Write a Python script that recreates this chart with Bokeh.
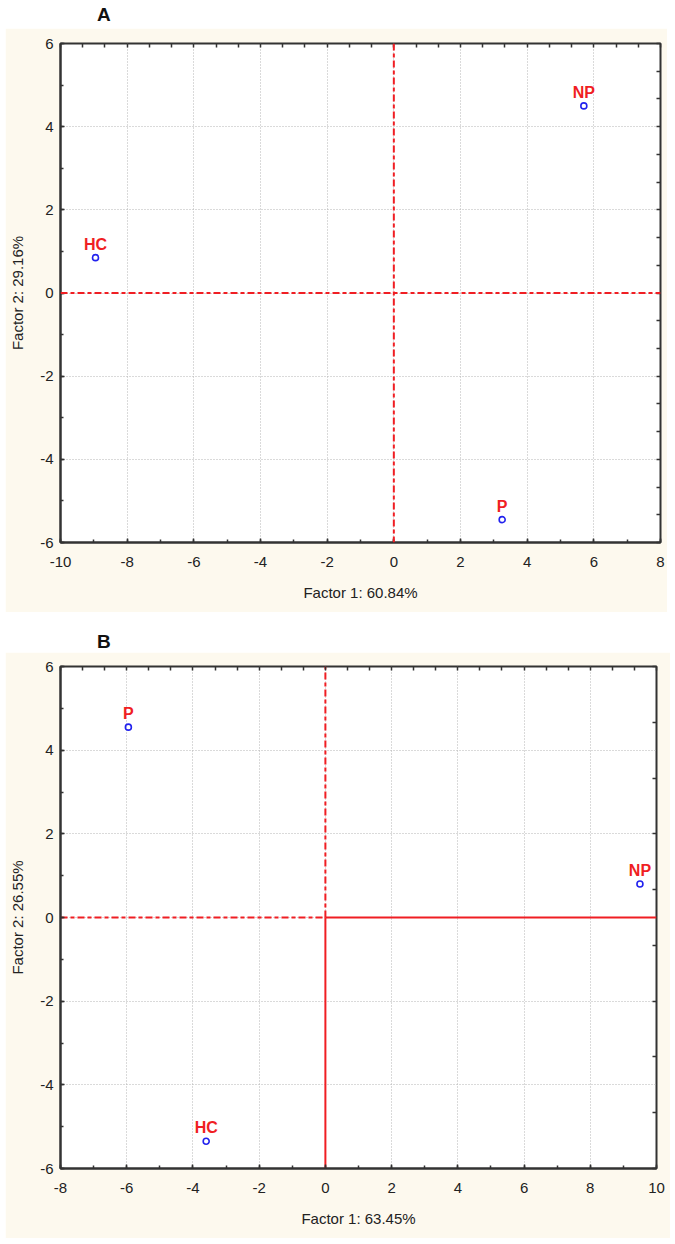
import numpy as np
from bokeh.plotting import figure
from bokeh.models import (Div, Span, LinearAxis, FixedTicker, SingleIntervalTicker, Grid,
                          ColumnDataSource, LabelSet, CustomJSTickFormatter, Range1d)
from bokeh.layouts import column
from bokeh.embed import file_html
from bokeh.resources import INLINE
from bokeh.core.properties import value

# ---------------- data ----------------
a_labels = ["NP", "HC", "P"]
a_factor1 = [5.7, -8.95, 3.25]
a_factor2 = [4.5, 0.85, -5.45]
a_xlabel = "Factor 1: 60.84%"
a_ylabel = "Factor 2: 29.16%"
a_xlim = (-10, 8)
a_ylim = (-6, 6)

b_labels = ["P", "HC", "NP"]
b_factor1 = [-5.95, -3.6, 9.5]
b_factor2 = [4.55, -5.35, 0.8]
b_xlabel = "Factor 1: 63.45%"
b_ylabel = "Factor 2: 26.55%"
b_xlim = (-8, 10)
b_ylim = (-6, 6)

CREAM = "#FDF9EE"
FRAME = "#333333"
RED = "#F01E23"
BLUE = "#2222EE"
FONT = "Liberation Sans"


def make_panel(labels, f1, f2, xlim, ylim, xlabel, ylabel, fw, fh,
               mb_left, mb_right, mb_top, mb_bottom, top_step, right_step):
    p = figure(frame_width=fw, frame_height=fh, x_range=Range1d(*xlim), y_range=Range1d(*ylim),
               output_backend="svg", toolbar_location=None, tools="",
               background_fill_color="white", border_fill_color=CREAM,
               min_border_left=mb_left, min_border_right=mb_right,
               min_border_top=mb_top, min_border_bottom=mb_bottom,
               x_axis_type=None, y_axis_type=None, margin=0)
    p.outline_line_color = FRAME
    p.outline_line_width = 2

    fmt = CustomJSTickFormatter(code="return tick.toFixed(0);")
    xt = SingleIntervalTicker(interval=2, num_minor_ticks=2)
    yt = SingleIntervalTicker(interval=2, num_minor_ticks=2)

    xa = LinearAxis(ticker=xt, formatter=fmt, axis_label=xlabel)
    ya = LinearAxis(ticker=yt, formatter=fmt, axis_label=ylabel)
    for ax in (xa, ya):
        ax.axis_line_color = FRAME
        ax.axis_line_width = 2
        ax.major_tick_in = 4
        ax.major_tick_out = 0
        ax.minor_tick_in = 3
        ax.minor_tick_out = 0
        ax.major_tick_line_color = FRAME
        ax.minor_tick_line_color = FRAME
        ax.major_tick_line_width = 1.5
        ax.minor_tick_line_width = 1.5
        ax.major_label_text_font = FONT
        ax.major_label_text_font_size = "15px"
        ax.major_label_text_color = "#222222"
        ax.axis_label_text_font = FONT
        ax.axis_label_text_font_size = "15px"
        ax.axis_label_text_font_style = "normal"
        ax.axis_label_text_color = "#222222"
    xa.major_label_standoff = 14
    xa.axis_label_standoff = 14
    ya.major_label_standoff = 7
    ya.major_label_orientation = "horizontal"
    ya.axis_label_standoff = 11
    p.add_layout(xa, "below")
    p.add_layout(ya, "left")

    empty = CustomJSTickFormatter(code="return '';")
    nx = int(round((xlim[1] - xlim[0]) / top_step))
    ny = int(round((ylim[1] - ylim[0]) / right_step))
    ta = LinearAxis(ticker=FixedTicker(ticks=list(np.linspace(xlim[0], xlim[1], nx + 1))), formatter=empty)
    ra = LinearAxis(ticker=FixedTicker(ticks=list(np.linspace(ylim[0], ylim[1], ny + 1))), formatter=empty)
    for ax in (ta, ra):
        ax.axis_line_color = None
        ax.major_tick_in = 4
        ax.major_tick_out = 0
        ax.minor_tick_in = 0
        ax.minor_tick_out = 0
        ax.major_tick_line_color = FRAME
        ax.major_tick_line_width = 1.5
        ax.major_label_standoff = 0
        ax.axis_label_standoff = 0
        ax.major_label_text_font_size = "0px"
    p.add_layout(ta, "above")
    p.add_layout(ra, "right")

    gx = Grid(dimension=0, ticker=xt, grid_line_color="#B4B4B4", grid_line_dash="1 2", grid_line_width=1)
    gy = Grid(dimension=1, ticker=yt, grid_line_color="#B4B4B4", grid_line_dash="1 2", grid_line_width=1)
    p.add_layout(gx)
    p.add_layout(gy)

    src = ColumnDataSource(dict(x=f1, y=f2, name=labels))
    return p, src


def add_points(p, src):
    p.scatter("x", "y", source=src, size=6, marker="circle", fill_color=None,
              line_color=BLUE, line_width=1.6)
    p.add_layout(LabelSet(x="x", y="y", text="name", source=src, y_offset=8,
                          text_align="center", text_baseline="alphabetic",
                          text_font=value(FONT), text_font_style="bold",
                          text_font_size="16px", text_color=RED))


DASH = "7 3 4 3"

# ---------------- panel A ----------------
pa, sa = make_panel(a_labels, a_factor1, a_factor2, a_xlim, a_ylim, a_xlabel, a_ylabel,
                    fw=600, fh=499, mb_left=55, mb_right=7, mb_top=15, mb_bottom=70,
                    top_step=2/3, right_step=2/3)
pa.add_layout(Span(location=0, dimension="height", line_color=RED, line_width=2, line_dash=DASH))
pa.add_layout(Span(location=0, dimension="width", line_color=RED, line_width=2, line_dash=DASH))
add_points(pa, sa)

# ---------------- panel B ----------------
pb, sb = make_panel(b_labels, b_factor1, b_factor2, b_xlim, b_ylim, b_xlabel, b_ylabel,
                    fw=596, fh=502, mb_left=55, mb_right=14, mb_top=14, mb_bottom=70,
                    top_step=2/3, right_step=4/3)
# dashed parts (left of / above origin) and solid parts (right of / below origin)
pb.segment(x0=[b_xlim[0]], y0=[0], x1=[0], y1=[0], line_color=RED, line_width=2, line_dash=DASH)
pb.segment(x0=[0], y0=[0], x1=[0], y1=[b_ylim[1]], line_color=RED, line_width=2, line_dash=DASH)
pb.segment(x0=[0], y0=[0], x1=[b_xlim[1]], y1=[0], line_color=RED, line_width=2)
pb.segment(x0=[0], y0=[b_ylim[0]], x1=[0], y1=[0], line_color=RED, line_width=2)
add_points(pb, sb)

title_style = "font-family:'Liberation Sans';font-weight:bold;font-size:19px;line-height:19px;color:#111;"
div_a = Div(text=f'<div style="{title_style}padding-left:92px;padding-top:5px;">A</div>',
            width=600, height=28, margin=0)
div_b = Div(text=f'<div style="{title_style}padding-left:92px;padding-top:20px;">B</div>',
            width=600, height=40, margin=0)

layout = column(div_a, pa, div_b, pb, spacing=0, margin=(0, 0, 0, 5))
open("out.html", "w").write(file_html(layout, INLINE))
